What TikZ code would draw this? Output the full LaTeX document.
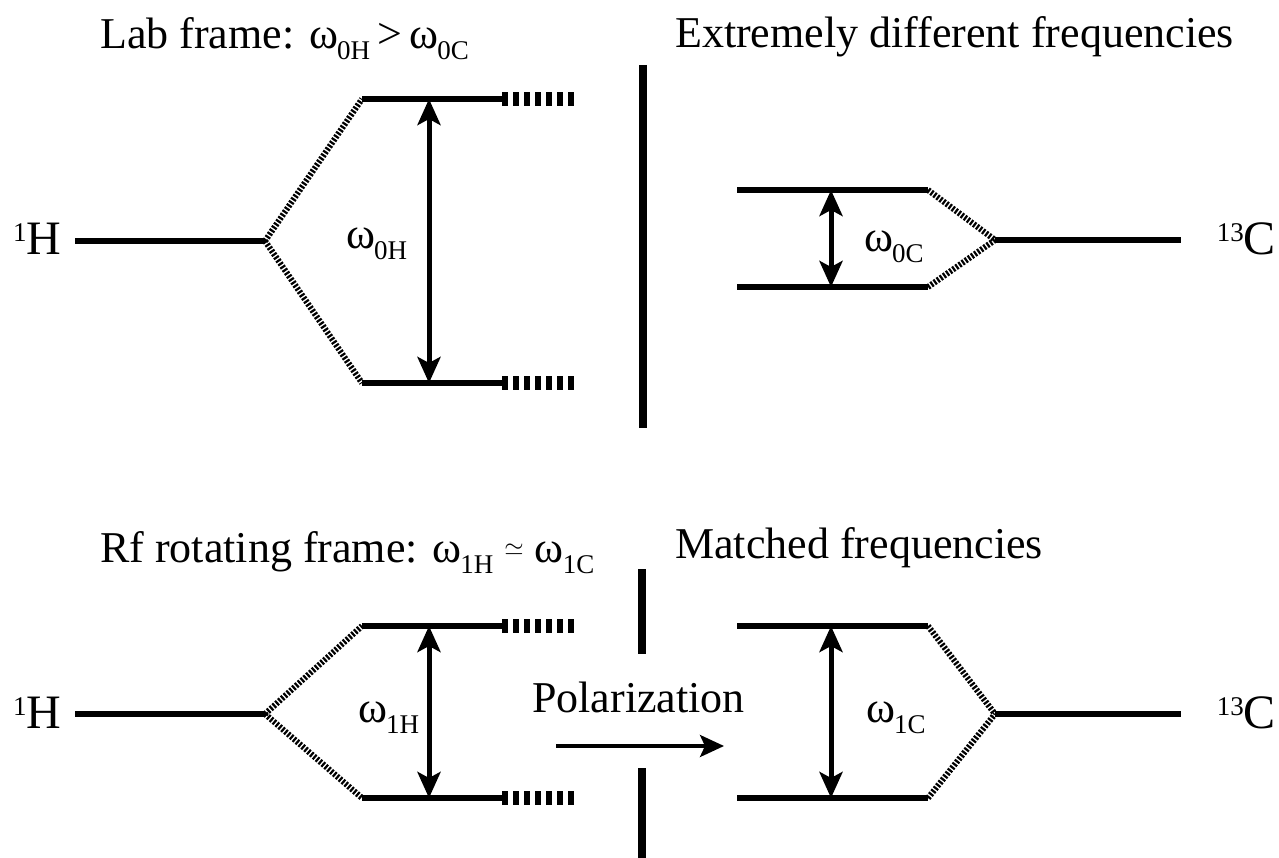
\documentclass[tikz,border=0pt]{standalone}
\usepackage{fontspec}
\setmainfont{Liberation Serif}
\usetikzlibrary{arrows.meta}
\newcommand\lsub[1]{\kern-1pt\raisebox{-11pt}{\fontsize{27}{27}\selectfont #1}}
\newcommand\lsup[1]{\raisebox{13pt}{\fontsize{27}{27}\selectfont #1}}
\begin{document}
\begin{tikzpicture}[x=1pt,y=-1pt,
  txt/.style={inner sep=0pt,anchor=base west,font=\fontsize{44}{44}\selectfont},
  iso/.style={inner sep=0pt,font=\fontsize{48}{48}\selectfont},
  level/.style={line width=6pt},
  ext/.style={line width=14pt,dash pattern=on 5.5pt off 5.5pt},
  dots/.style={line width=6pt,dash pattern=on 2.2pt off 1.6pt},
  sep/.style={line width=8pt},
  dbl/.style={line width=5pt,{Stealth[width=23pt,length=26pt,inset=6pt]}-{Stealth[width=23pt,length=26pt,inset=6pt]}},
  pol/.style={line width=3.5pt,-{Stealth[width=22pt,length=24pt,inset=5pt]}}]
\useasboundingbox (0,0) rectangle (1279,858);
% titles
\node[txt] (t1) at (100,49) {Lab frame: ω\lsub{0H}\,>\,ω\lsub{0C}};
\node[txt] (t2) at (675,48) {Extremely different frequencies};
\node[txt] (t3) at (100,562) {Rf rotating frame: ω\lsub{1H} \raisebox{7pt}{\fontsize{28}{28}\selectfont$\simeq$} ω\lsub{1C}};
\node[txt] (t4) at (675,558) {Matched frequencies};
% ---------- top left: 1H lab
\node[iso,anchor=base west] (hA) at (13,255) {\lsup{1}H};
\coordinate (hA0) at (75,241);
\coordinate (hAs) at (265,241);
\coordinate (hAu) at (362,99);
\coordinate (hAue) at (502,99);
\coordinate (hAux) at (576,99);
\coordinate (hAl) at (362,383);
\coordinate (hAle) at (502,383);
\coordinate (hAlx) at (576,383);
\coordinate (hAau) at (429,99);
\coordinate (hAal) at (429,383);
\draw[level] (hA0) -- (hAs);
\draw[dots] (hAs) -- (hAu);
\draw[dots] (hAs) -- (hAl);
\draw[level] (hAu) -- (hAue);
\draw[level] (hAl) -- (hAle);
\draw[ext] (hAue) -- (hAux);
\draw[ext] (hAle) -- (hAlx);
\draw[dbl] (hAau) -- (hAal);
\node[txt] (wA) at (346,249) {ω\lsub{0H}};
% separator top
\coordinate (s1) at (643,65);
\coordinate (s2) at (643,428);
\draw[sep] (s1) -- (s2);
% ---------- top right: 13C lab
\node[iso,anchor=base east] (cA) at (1276,255) {\lsup{13}C};
\coordinate (cAu) at (737,190);
\coordinate (cAue) at (928,190);
\coordinate (cAl) at (737,287);
\coordinate (cAle) at (928,287);
\coordinate (cAs) at (995,240);
\coordinate (cA0) at (1181,240);
\coordinate (cAau) at (831,190);
\coordinate (cAal) at (831,287);
\draw[level] (cAu) -- (cAue);
\draw[level] (cAl) -- (cAle);
\draw[dots] (cAue) -- (cAs);
\draw[dots] (cAle) -- (cAs);
\draw[level] (cAs) -- (cA0);
\draw[dbl] (cAau) -- (cAal);
\node[txt] (wB) at (864,252) {ω\lsub{0C}};
% ---------- bottom left: 1H rotating
\node[iso,anchor=base west] (hB) at (13,728) {\lsup{1}H};
\coordinate (hB0) at (75,714);
\coordinate (hBs) at (265,714);
\coordinate (hBu) at (362,626);
\coordinate (hBue) at (502,626);
\coordinate (hBux) at (576,626);
\coordinate (hBl) at (362,798);
\coordinate (hBle) at (502,798);
\coordinate (hBlx) at (576,798);
\coordinate (hBau) at (429,626);
\coordinate (hBal) at (429,798);
\draw[level] (hB0) -- (hBs);
\draw[dots] (hBs) -- (hBu);
\draw[dots] (hBs) -- (hBl);
\draw[level] (hBu) -- (hBue);
\draw[level] (hBl) -- (hBle);
\draw[ext] (hBue) -- (hBux);
\draw[ext] (hBle) -- (hBlx);
\draw[dbl] (hBau) -- (hBal);
\node[txt] (wC) at (358,722) {ω\lsub{1H}};
% separator bottom
\coordinate (s3) at (642,569);
\coordinate (s4) at (642,654);
\coordinate (s5) at (642,768);
\coordinate (s6) at (642,858);
\draw[sep] (s3) -- (s4);
\draw[sep] (s5) -- (s6);
% polarization
\node[txt] (pl) at (532,712) {Polarization};
\coordinate (p1) at (556,746);
\coordinate (p2) at (724,746);
\draw[pol] (p1) -- (p2);
% ---------- bottom right: 13C rotating
\node[iso,anchor=base east] (cB) at (1276,728) {\lsup{13}C};
\coordinate (cBu) at (737,626);
\coordinate (cBue) at (928,626);
\coordinate (cBl) at (737,798);
\coordinate (cBle) at (928,798);
\coordinate (cBs) at (995,714);
\coordinate (cB0) at (1181,714);
\coordinate (cBau) at (831,626);
\coordinate (cBal) at (831,798);
\draw[level] (cBu) -- (cBue);
\draw[level] (cBl) -- (cBle);
\draw[dots] (cBue) -- (cBs);
\draw[dots] (cBle) -- (cBs);
\draw[level] (cBs) -- (cB0);
\draw[dbl] (cBau) -- (cBal);
\node[txt] (wD) at (866,722) {ω\lsub{1C}};
\end{tikzpicture}
\end{document}
